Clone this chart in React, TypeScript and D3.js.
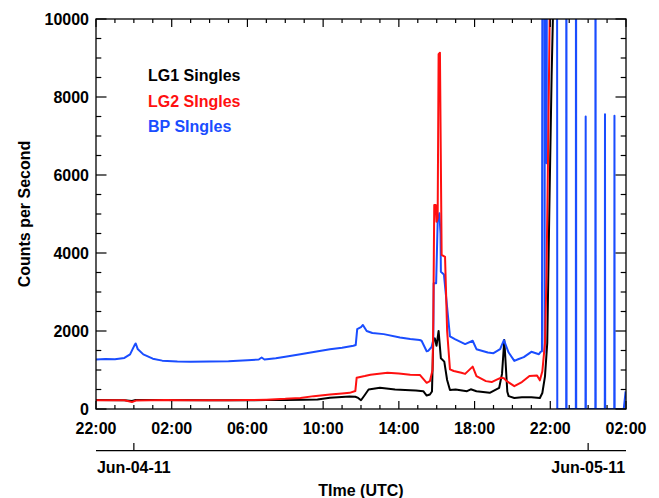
import React from "react";
import * as d3 from "d3";

// hours since 2011-06-03 22:00 UTC, counts per second
const lg1Data: [number, number][] = [
  [0, 228], [1.5, 226], [1.9, 205], [2.1, 232], [3.6, 228], [6, 226], [8, 226], [9, 229], [10, 233],
  [11, 238], [11.7, 245], [12.36, 290], [13.4, 320], [13.7, 315], [13.85, 284], [14.0, 225],
  [14.2, 360], [14.4, 500], [15.0, 545], [15.8, 500], [16.6, 483], [16.9, 474], [17.29, 457],
  [17.47, 345], [17.64, 371], [17.75, 450], [17.82, 1780], [17.9, 1810], [17.99, 1620],
  [18.1, 2000], [18.22, 1300], [18.4, 1214], [18.55, 744], [18.7, 487], [19.0, 500],
  [19.6, 457], [19.8, 505], [20.1, 457], [20.8, 414], [21.3, 543], [21.45, 900], [21.57, 1769],
  [21.73, 444], [21.8, 330], [22.1, 284], [22.5, 300], [23.0, 300], [23.45, 282], [23.58, 410],
  [23.72, 838], [23.84, 1692], [23.95, 5111], [24.07, 8530], [24.16, 10500], [24.25, 15000],
];

const lg2Data: [number, number][] = [
  [0, 225], [1.5, 225], [1.9, 180], [2.1, 215], [3.65, 230], [5, 225], [7, 225], [8, 228],
  [9, 240], [10, 260], [10.8, 285], [11.5, 330], [12.36, 371], [13.0, 400], [13.4, 414],
  [13.7, 460], [13.77, 800], [14.2, 845], [14.5, 880], [15.4, 930], [16.0, 910], [16.6, 880],
  [17.12, 871], [17.47, 672], [17.64, 715], [17.78, 1000], [17.82, 2300], [17.87, 5230],
  [17.95, 5230], [17.99, 4800], [18.05, 4900], [18.1, 9100], [18.17, 9136], [18.26, 3950],
  [18.44, 3900], [18.55, 2000], [18.7, 1017], [18.9, 974], [19.3, 931], [19.5, 900],
  [19.9, 1086], [20.1, 845], [20.6, 715], [20.9, 690], [21.2, 760], [21.4, 802], [21.55, 790],
  [21.7, 715], [22.1, 586], [22.5, 690], [22.9, 845], [23.3, 862], [23.45, 735], [23.58, 966],
  [23.72, 1692], [23.8, 3400], [23.89, 6820], [23.98, 10500], [24.05, 15000],
];

const bpData: [number, number][] = [
  [0, 1270], [0.5, 1280], [1.0, 1275], [1.5, 1310], [1.8, 1400], [2.05, 1650], [2.1, 1680],
  [2.2, 1540], [2.5, 1400], [3.0, 1290], [3.5, 1240], [4.3, 1215], [5.0, 1210], [6.0, 1215],
  [7.0, 1225], [8.0, 1250], [8.6, 1270], [8.75, 1320], [8.9, 1270], [9.5, 1300], [10.0, 1340],
  [10.8, 1405], [11.5, 1460], [12.36, 1534], [13.0, 1570], [13.6, 1620], [13.72, 1640],
  [13.8, 2050], [14.0, 2100], [14.1, 2155], [14.3, 2000], [14.6, 1950], [15.2, 1920],
  [16.06, 1836], [16.6, 1793], [17.1, 1770], [17.2, 1750], [17.47, 1480], [17.55, 1491],
  [17.73, 1590], [17.82, 1770], [17.84, 3222], [17.97, 3222], [18.05, 4800], [18.14, 5017],
  [18.2, 4500], [18.22, 3520], [18.38, 3450], [18.7, 1860], [18.96, 1793], [19.5, 1664],
  [19.9, 1750], [20.1, 1534], [20.7, 1448], [21.0, 1431], [21.35, 1534], [21.55, 1767],
  [21.8, 1448], [22.1, 1233], [22.3, 1276], [22.6, 1330], [23.0, 1466], [23.4, 1405],
  [23.5, 1470], [23.56, 1480], [23.6, 20000], [23.68, 20000], [23.7, 1450], [23.72, 20000],
  [23.79, 20000], [23.81, 6300], [23.83, 20000], [24.35, 20000], [24.37, 0],
  [24.84, 0], [24.85, 20000], [24.86, 0], [25.35, 0], [25.36, 20000], [25.37, 0],
  [25.86, 0], [25.87, 7500], [25.88, 0], [26.38, 0], [26.39, 20000], [26.4, 0],
  [26.88, 0], [26.89, 7560], [26.9, 0], [27.38, 0], [27.39, 7520], [27.4, 0],
  [27.88, 0], [27.98, 450],
];

const xTickLabels = ["22:00", "02:00", "06:00", "10:00", "14:00", "18:00", "22:00", "02:00"];
const yTickValues = [0, 2000, 4000, 6000, 8000, 10000];
const dateLabels: [number, string][] = [[2, "Jun-04-11"], [26, "Jun-05-11"]];
const legendItems = ["LG1 Singles", "LG2 SIngles", "BP SIngles"];

const COLORS = ["#000000", "#ff1010", "#1a4dff"];
const FONT = "'Liberation Sans', Arial, Helvetica, sans-serif";

export default function App() {
  const W = 659, H = 498;
  const L = 96, R = 626, T = 19, B = 409;
  const x = d3.scaleLinear().domain([0, 28]).range([L, R]);
  const y = d3.scaleLinear().domain([0, 10000]).range([B, T]);
  const line = d3.line<[number, number]>().x(d => x(d[0])).y(d => y(d[1]));

  const hours = d3.range(0, 29);
  const yMinor = d3.range(0, 10001, 500);
  const txt = { fontFamily: FONT, fontWeight: 700, fontSize: 16 } as const;

  return (
    <svg width={W} height={H} style={{ position: "absolute", left: 0, top: 0, background: "#fff" }}>
      <defs>
        <clipPath id="plotclip">
          <rect x={L} y={T} width={R - L} height={B - T} />
        </clipPath>
      </defs>
      <rect x={0} y={0} width={W} height={H} fill="#fff" />
      <g clipPath="url(#plotclip)" fill="none" strokeWidth={2} strokeLinejoin="round">
        <path d={line(lg1Data) || ""} stroke={COLORS[0]} />
        <path d={line(bpData) || ""} stroke={COLORS[2]} />
        <path d={line(lg2Data) || ""} stroke={COLORS[1]} />
      </g>
      {/* frame */}
      <rect x={L} y={T} width={R - L} height={B - T} fill="none" stroke="#000" strokeWidth={1.3} />
      {/* x ticks top/bottom */}
      {hours.map(h => {
        const len = h % 4 === 0 ? 8 : 4;
        return (
          <g key={"xt" + h} stroke="#000" strokeWidth={1.2}>
            <line x1={x(h)} x2={x(h)} y1={B} y2={B - len} />
            <line x1={x(h)} x2={x(h)} y1={T} y2={T + len} />
          </g>
        );
      })}
      {/* y ticks left/right */}
      {yMinor.map(v => {
        const len = v % 2000 === 0 ? 10.5 : 5.3;
        return (
          <g key={"yt" + v} stroke="#000" strokeWidth={1.2}>
            <line x1={L} x2={L + len} y1={y(v)} y2={y(v)} />
            <line x1={R} x2={R - len} y1={y(v)} y2={y(v)} />
          </g>
        );
      })}
      {yTickValues.map(v => (
        <text key={"yl" + v} x={89} y={y(v) + 5.8} textAnchor="end" {...txt}>{v}</text>
      ))}
      {xTickLabels.map((lab, i) => (
        <text key={"xl" + i} x={x(i * 4)} y={434} textAnchor="middle" {...txt}>{lab}</text>
      ))}
      {/* date axis */}
      <line x1={L} x2={R} y1={450.7} y2={450.7} stroke="#000" strokeWidth={1.3} />
      {dateLabels.map(([h, lab]) => (
        <g key={lab}>
          <line x1={x(h)} x2={x(h)} y1={450.7} y2={443} stroke="#000" strokeWidth={1.2} />
          <text x={x(h)} y={473} textAnchor="middle" {...txt}>{lab}</text>
        </g>
      ))}
      <text x={(L + R) / 2} y={496} textAnchor="middle" {...txt}>TIme (UTC)</text>
      <text transform={`translate(30,${(T + B) / 2}) rotate(-90)`} textAnchor="middle" {...txt}>Counts per Second</text>
      {legendItems.map((lab, i) => (
        <text key={lab} x={148} y={81 + i * 25.7} fill={COLORS[i]} {...txt}>{lab}</text>
      ))}
    </svg>
  );
}
